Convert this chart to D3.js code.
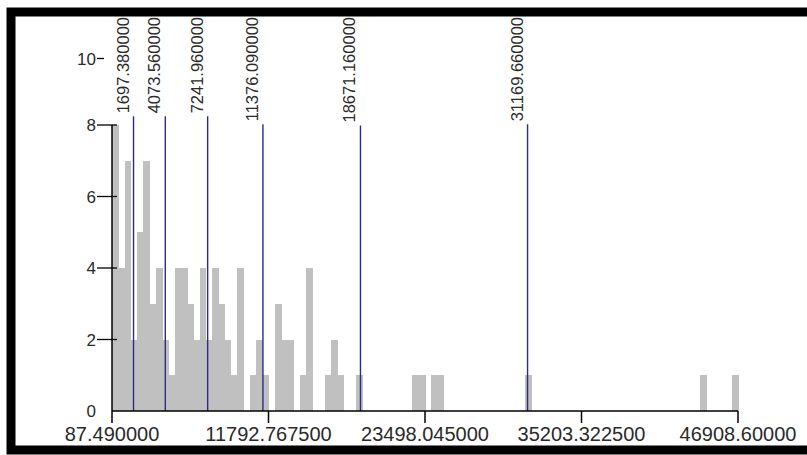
<!DOCTYPE html>
<html>
<head>
<meta charset="utf-8">
<script src="https://cdn.jsdelivr.net/npm/d3@7"></script>
<style>
  html, body { margin: 0; padding: 0; background: #fff; }
  svg { display: block; }
  text { font-family: "Liberation Sans", Arial, sans-serif; }
</style>
</head>
<body>
<svg id="chart" width="807" height="455"></svg>
<script>
// ---- data ----
const dataMin = 87.49;
const dataMax = 46908.6;
// histogram counts, 100 equal-width bins from dataMin to dataMax
const binCounts = [
  8, 4, 7, 2, 5, 7, 3, 4, 2, 1,
  4, 4, 3, 2, 4, 2, 4, 3, 2, 1,
  4, 0, 1, 2, 1, 0, 3, 2, 2, 0,
  1, 4, 0, 0, 1, 2, 1, 0, 0, 1,
  0, 0, 0, 0, 0, 0, 0, 0, 1, 1,
  0, 1, 1, 0, 0, 0, 0, 0, 0, 0,
  0, 0, 0, 0, 0, 0, 1, 0, 0, 0,
  0, 0, 0, 0, 0, 0, 0, 0, 0, 0,
  0, 0, 0, 0, 0, 0, 0, 0, 0, 0,
  0, 0, 0, 0, 1, 0, 0, 0, 0, 1
];
const breakValues = [1697.38, 4073.56, 7241.96, 11376.09, 18671.16, 31169.66];
const breakLabels = ["1697.380000", "4073.560000", "7241.960000", "11376.090000", "18671.160000", "31169.660000"];
const xTickValues = [87.49, 11792.7675, 23498.045, 35203.3225, 46908.6];
const xTickLabels = ["87.490000", "11792.767500", "23498.045000", "35203.322500", "46908.60000"];
const yTickValues = [0, 2, 4, 6, 8, 10];
const yTickLabels = ["0", "2", "4", "6", "8", "10"];

// ---- layout ----
const svg = d3.select("#chart");
const plotLeft = 112, plotRight = 738, plotBottom = 411, plotTop = 53.5;
const x = d3.scaleLinear().domain([dataMin, dataMax]).range([plotLeft, plotRight]);
const y = d3.scaleLinear().domain([0, 10]).range([plotBottom, plotTop]);
const nBins = binCounts.length;
const step = (dataMax - dataMin) / nBins;
const bins = binCounts.map((c, i) => ({ x0: dataMin + i * step, x1: dataMin + (i + 1) * step, count: c }));

// bars
svg.append("g")
  .attr("shape-rendering", "crispEdges")
  .selectAll("rect")
  .data(bins.filter(d => d.count > 0))
  .join("rect")
  .attr("x", d => x(d.x0))
  .attr("width", d => x(d.x1) - x(d.x0) + 0.5)
  .attr("y", d => y(d.count))
  .attr("height", d => y(0) - y(d.count))
  .attr("fill", "#c0c0c0");

// break lines with rotated labels
const labelTop = 17;
const gBreaks = svg.append("g");
breakValues.forEach((b, i) => {
  const bx = x(b);
  const t = gBreaks.append("text")
    .attr("transform", `translate(${bx - 5},${labelTop}) rotate(-90)`)
    .attr("text-anchor", "end")
    .attr("font-size", 16.5)
    .attr("fill", "#2a2a2a")
    .text(breakLabels[i]);
  const len = t.node().getComputedTextLength();
  gBreaks.append("line")
    .attr("x1", bx).attr("x2", bx)
    .attr("y1", labelTop + len + 3).attr("y2", y(0))
    .attr("stroke", "#2b2b85").attr("stroke-width", 1.4);
});

// y axis
const gy = svg.append("g");
gy.append("line")
  .attr("x1", plotLeft).attr("x2", plotLeft)
  .attr("y1", y(0)).attr("y2", y(8))
  .attr("stroke", "#000").attr("stroke-width", 1.5);
yTickValues.forEach((v, i) => {
  const top = v === 10;
  const ty = y(v) + (top ? 5 : 0);
  if (v !== 0) {
    gy.append("line")
      .attr("x1", 97).attr("x2", top ? 104 : 117)
      .attr("y1", ty).attr("y2", ty)
      .attr("stroke", "#000").attr("stroke-width", 1.3);
  }
  gy.append("text")
    .attr("x", 96).attr("y", ty)
    .attr("dy", "0.36em")
    .attr("text-anchor", "end")
    .attr("font-size", 17)
    .attr("fill", "#2a2a2a")
    .text(yTickLabels[i]);
});

// x axis
const gx = svg.append("g");
gx.append("line")
  .attr("x1", plotLeft).attr("x2", plotRight)
  .attr("y1", y(0)).attr("y2", y(0))
  .attr("stroke", "#000").attr("stroke-width", 1.5);
xTickValues.forEach((v, i) => {
  gx.append("line")
    .attr("x1", x(v)).attr("x2", x(v))
    .attr("y1", y(0)).attr("y2", y(0) + 12)
    .attr("stroke", "#000").attr("stroke-width", 1.5);
  gx.append("text")
    .attr("x", x(v)).attr("y", 441)
    .attr("text-anchor", "middle")
    .attr("font-size", 20)
    .attr("fill", "#2a2a2a")
    .text(xTickLabels[i]);
});

// frame
svg.append("rect")
  .attr("x", 11).attr("y", 12)
  .attr("width", 900).attr("height", 438)
  .attr("fill", "none")
  .attr("stroke", "#000").attr("stroke-width", 9);
</script>
</body>
</html>
